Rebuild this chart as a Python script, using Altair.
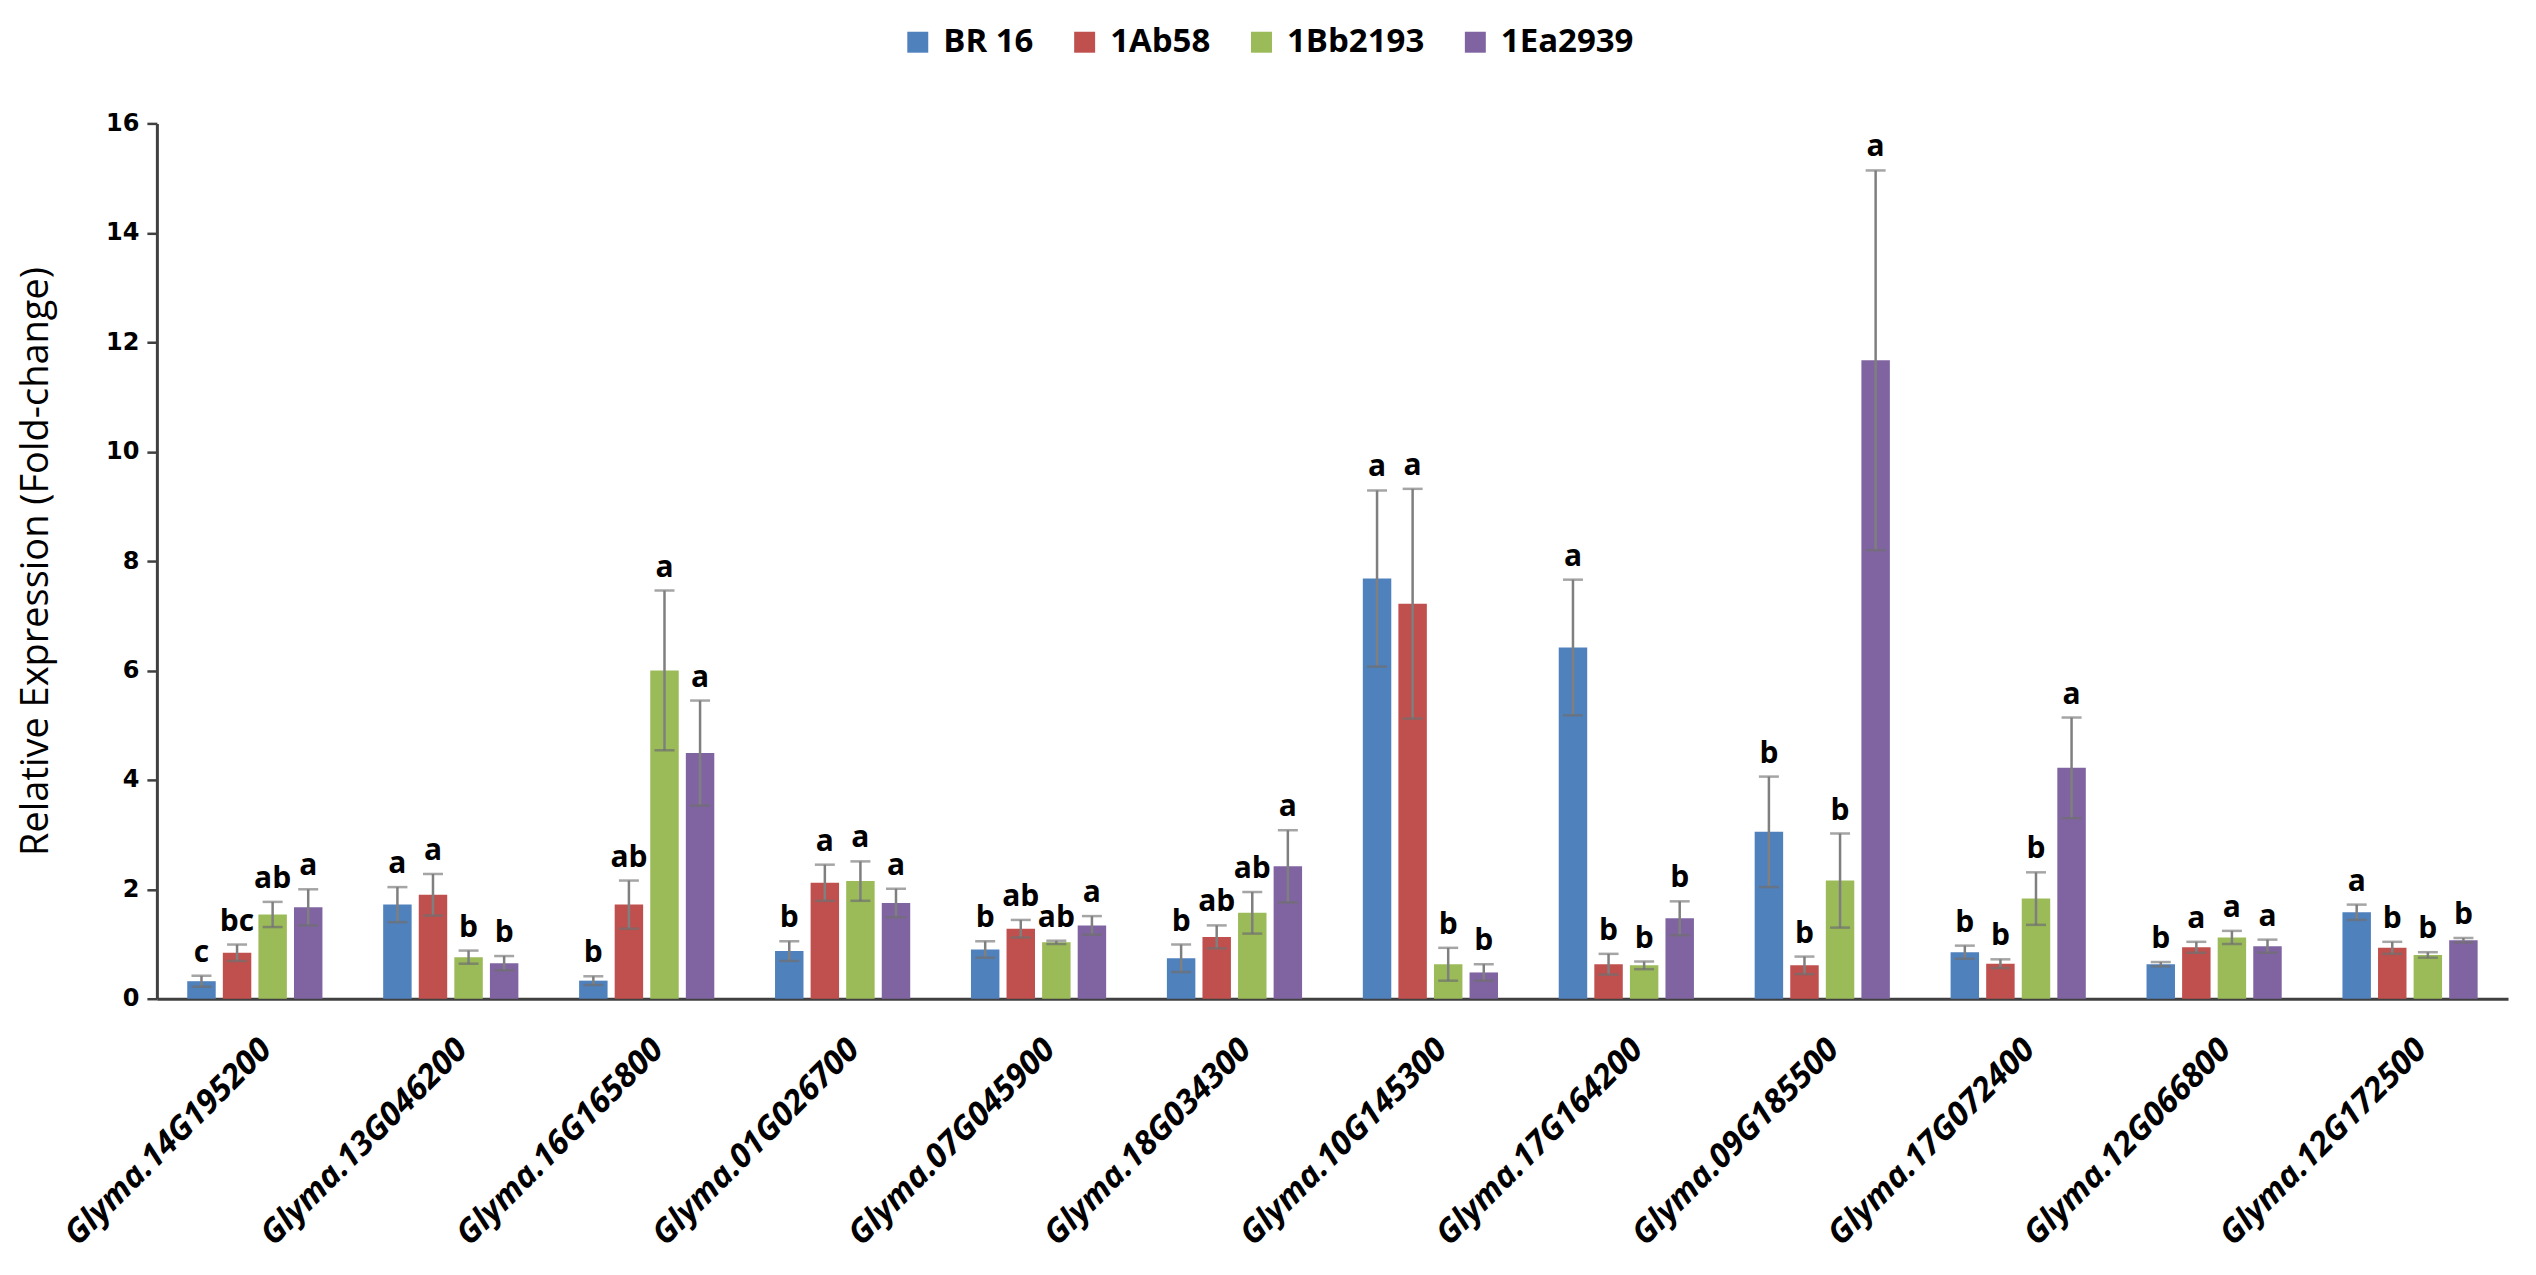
import altair as alt
import pandas as pd

genes = ["Glyma.14G195200", "Glyma.13G046200", "Glyma.16G165800", "Glyma.01G026700",
         "Glyma.07G045900", "Glyma.18G034300", "Glyma.10G145300", "Glyma.17G164200",
         "Glyma.09G185500", "Glyma.17G072400", "Glyma.12G066800", "Glyma.12G172500"]
lines = ["BR 16", "1Ab58", "1Bb2193", "1Ea2939"]
colors = ["#4F81BD", "#C0504D", "#9BBB59", "#8064A2"]

br16 = [0.32, 1.72, 0.33, 0.87, 0.90, 0.74, 7.68, 6.42, 3.05, 0.85, 0.63, 1.58]
br16_err = [0.10, 0.32, 0.08, 0.18, 0.15, 0.25, 1.61, 1.24, 1.01, 0.12, 0.04, 0.14]
br16_lab = ["c", "a", "b", "b", "b", "b", "a", "a", "b", "b", "b", "a"]

ab58 = [0.84, 1.90, 1.72, 2.12, 1.28, 1.13, 7.22, 0.63, 0.61, 0.64, 0.94, 0.93]
ab58_err = [0.15, 0.38, 0.44, 0.33, 0.16, 0.21, 2.10, 0.19, 0.16, 0.08, 0.10, 0.11]
ab58_lab = ["bc", "a", "ab", "a", "ab", "ab", "a", "b", "b", "b", "a", "b"]

bb2193 = [1.54, 0.76, 6.00, 2.15, 1.03, 1.57, 0.63, 0.61, 2.16, 1.83, 1.12, 0.80]
bb2193_err = [0.23, 0.12, 1.46, 0.36, 0.03, 0.38, 0.30, 0.07, 0.86, 0.48, 0.12, 0.05]
bb2193_lab = ["ab", "b", "a", "a", "ab", "ab", "b", "b", "b", "b", "a", "b"]

ea2939 = [1.67, 0.65, 4.49, 1.75, 1.34, 2.42, 0.48, 1.47, 11.67, 4.22, 0.96, 1.07]
ea2939_err = [0.33, 0.13, 0.96, 0.26, 0.17, 0.66, 0.15, 0.31, 3.47, 0.92, 0.12, 0.04]
ea2939_lab = ["a", "b", "a", "a", "a", "a", "b", "b", "a", "a", "a", "b"]

series = [(lines[0], br16, br16_err, br16_lab),
          (lines[1], ab58, ab58_err, ab58_lab),
          (lines[2], bb2193, bb2193_err, bb2193_lab),
          (lines[3], ea2939, ea2939_err, ea2939_lab)]

rows = []
for name, vals, errs, labs in series:
    for g, v, e, l in zip(genes, vals, errs, labs):
        rows.append({"gene": g, "line": name, "value": v,
                     "lo": v - e, "hi": v + e, "label": l})
df = pd.DataFrame(rows)

x_enc = alt.X("gene:N", sort=genes, title=None,
              scale=alt.Scale(paddingInner=0.31, paddingOuter=0.155),
              axis=alt.Axis(labelAngle=-45, labelFont="Open Sans", labelFontSize=33,
                            labelFontWeight="bold", labelFontStyle="italic",
                            labelColor="#000000", ticks=False, labelPadding=34,
                            domainColor="#404040", domainWidth=3, labelLimit=700))
xoff = alt.XOffset("line:N", sort=lines, scale=alt.Scale(paddingInner=0.2))
y_scale = alt.Scale(domain=[0, 16], nice=False)

base = alt.Chart(df)

bars = base.mark_bar().encode(
    x=x_enc,
    xOffset=xoff,
    y=alt.Y("value:Q", scale=y_scale, title="Relative Expression (Fold-change)",
            axis=alt.Axis(values=list(range(0, 17, 2)), grid=False, tickSize=10,
                          tickColor="#404040", tickWidth=2.5, domainColor="#404040",
                          domainWidth=3, labelFont="DejaVu Sans", labelFontSize=24,
                          labelFontWeight="bold", labelColor="#000000", labelPadding=8,
                          titleFont="Open Sans", titleFontSize=38, titleFontWeight="normal",
                          titleColor="#000000", titlePadding=50)),
    color=alt.Color("line:N", sort=lines,
                    scale=alt.Scale(domain=lines, range=colors),
                    legend=alt.Legend(title=None, orient="none", legendX=745, legendY=-98,
                                      direction="horizontal", columns=4,
                                      symbolType="square", symbolSize=440,
                                      symbolStrokeWidth=0, labelFont="Open Sans",
                                      labelFontSize=33, labelFontWeight="bold",
                                      labelColor="#000000", columnPadding=34,
                                      labelOffset=9)),
)

err = base.mark_rule(color="#7F7F7F", strokeWidth=2.5).encode(
    x=alt.X("gene:N", sort=genes), xOffset=xoff,
    y=alt.Y("lo:Q", scale=y_scale), y2="hi:Q")

cap_hi = base.mark_tick(color="#7F7F7F", orient="horizontal", size=20, thickness=2.5).encode(
    x=alt.X("gene:N", sort=genes), xOffset=xoff, y=alt.Y("hi:Q", scale=y_scale))

cap_lo = base.mark_tick(color="#6F6F6F", orient="horizontal", size=20, thickness=2.5).encode(
    x=alt.X("gene:N", sort=genes), xOffset=xoff, y=alt.Y("lo:Q", scale=y_scale))

txt = base.mark_text(font="Open Sans", fontSize=30, fontWeight="bold", color="#000000",
                     baseline="alphabetic", dy=-14).encode(
    x=alt.X("gene:N", sort=genes), xOffset=xoff,
    y=alt.Y("hi:Q", scale=y_scale), text="label:N")

chart = alt.layer(bars, err, cap_hi, cap_lo, txt).properties(
    width=2353, height=876,
    autosize=alt.AutoSizeParams(type="none"),
    padding={"left": 149, "top": 115, "right": 20, "bottom": 260},
    background="#FFFFFF",
).configure_view(stroke=None)

chart.save("out.html", embed_options={"renderer": "svg", "actions": False})
